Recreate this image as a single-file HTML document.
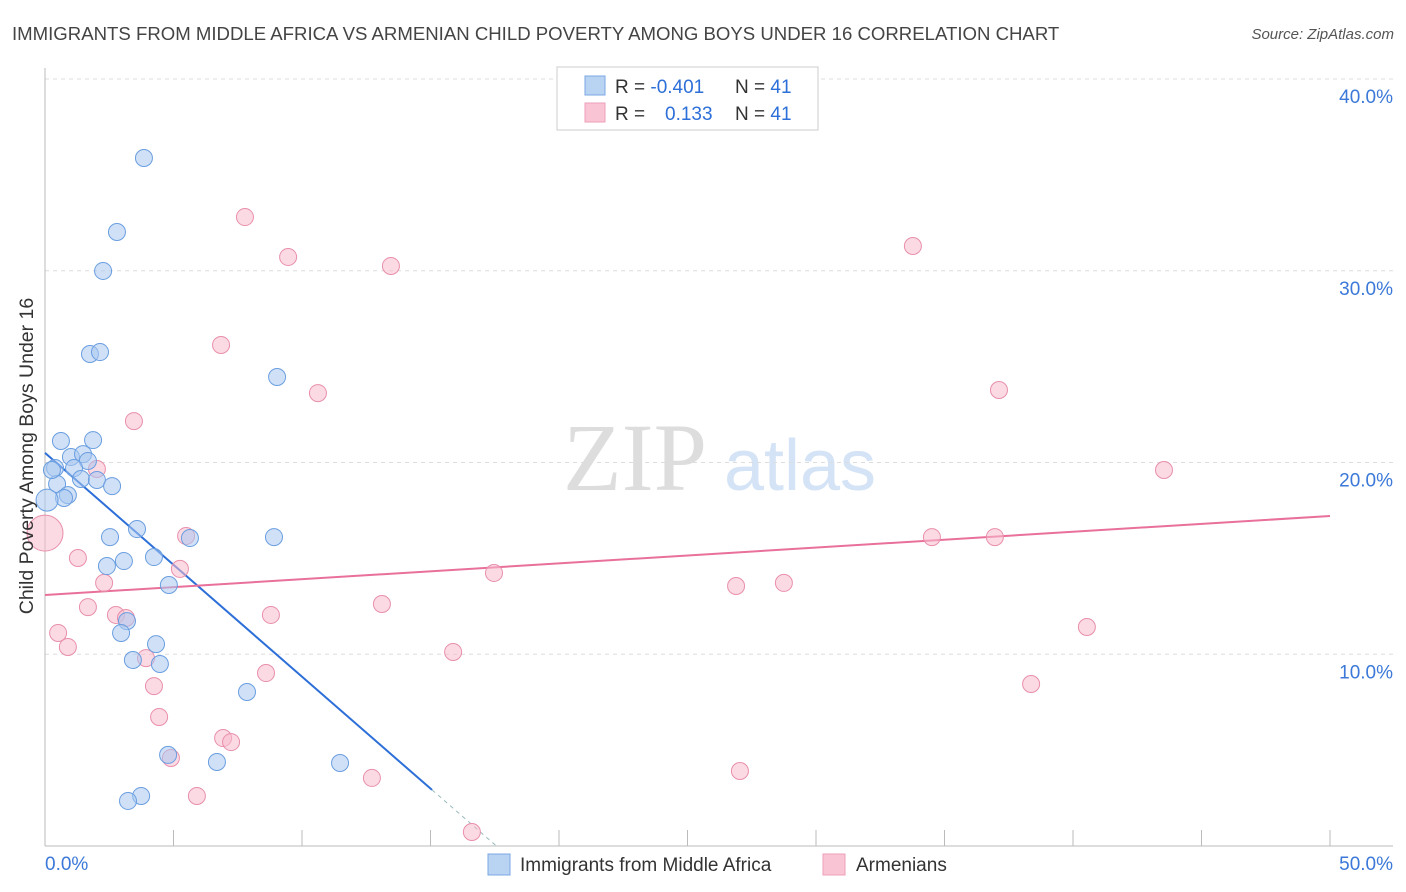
<!DOCTYPE html>
<html><head><meta charset="utf-8"><style>
body{margin:0;background:#fff;font-family:"Liberation Sans",sans-serif}
</style></head><body>
<svg id="chart" width="1406" height="892" xmlns="http://www.w3.org/2000/svg" style="display:block">
<text x="12" y="40" font-size="18.6" fill="#444">IMMIGRANTS FROM MIDDLE AFRICA VS ARMENIAN CHILD POVERTY AMONG BOYS UNDER 16 CORRELATION CHART</text>
<text x="1394" y="39" font-size="15" fill="#555" text-anchor="end" font-style="italic">Source: ZipAtlas.com</text>
<g>
<text x="635" y="490" font-family="Liberation Serif,serif" font-size="96" fill="#ddd" text-anchor="middle">ZIP</text>
<text x="800" y="490" font-size="72" fill="#d4e3f5" text-anchor="middle">atlas</text>
</g>
<g id="grid"></g>
<g id="axes"></g>
<g id="lines"></g>
<g id="points"></g>
<text transform="translate(33,456) rotate(-90)" font-size="19.5" fill="#333" text-anchor="middle">Child Poverty Among Boys Under 16</text>
<g>
<rect x="557" y="67" width="261" height="63" fill="#fff" stroke="#ccc"/>
<rect x="585" y="76" width="20" height="19" fill="#b9d3f3" stroke="#7aa7e3"/>
<rect x="585" y="103" width="20" height="19" fill="#f9c5d4" stroke="#ef9fb8"/>
<text x="615" y="93" font-size="19" fill="#333">R = <tspan fill="#2d6fd8">-0.401</tspan></text>
<text x="735" y="93" font-size="19" fill="#333">N = <tspan fill="#2d6fd8">41</tspan></text>
<text x="615" y="120" font-size="19" fill="#333">R = <tspan fill="#2d6fd8" x="665">0.133</tspan></text>
<text x="735" y="120" font-size="19" fill="#333">N = <tspan fill="#2d6fd8">41</tspan></text>
</g>
<g>
<rect x="488" y="854" width="22" height="21" fill="#b9d3f3" stroke="#7aa7e3"/>
<text x="520" y="871" font-size="19" fill="#333">Immigrants from Middle Africa</text>
<rect x="823" y="854" width="22" height="21" fill="#f9c5d4" stroke="#ef9fb8"/>
<text x="856" y="871" font-size="19" fill="#333">Armenians</text>
</g>
</svg>
<script>
const yTicks=[10,20,30,40];
const yTickLabels=["10.0%","20.0%","30.0%","40.0%"];
const xTicks=[0,5,10,15,20,25,30,35,40,45,50];
const blueX=[3.85,2.80,2.26,1.75,2.14,9.03,0.62,1.87,1.01,1.48,1.67,0.39,1.13,1.40,2.02,2.61,0.47,0.89,0.74,0.08,3.58,2.53,5.64,8.91,4.24,3.07,2.41,4.82,3.19,2.96,4.32,3.42,4.47,7.86,4.79,6.69,11.48,3.74,3.23,0.27];
const blueY=[35.88,32.02,29.99,25.66,25.76,24.46,21.12,21.17,20.29,20.44,20.08,19.71,19.71,19.14,19.09,18.77,18.88,18.30,18.15,18.04,16.53,16.11,16.06,16.11,15.07,14.86,14.60,13.61,11.73,11.11,10.53,9.70,9.49,8.03,4.75,4.38,4.33,2.61,2.35,19.61];
const pinkX=[7.78,9.46,13.46,33.77,6.85,10.62,37.12,3.46,2.02,43.54,0.0,5.49,1.28,34.51,36.96,5.25,17.47,2.30,26.89,28.75,1.67,2.76,3.15,13.11,8.79,0.51,40.54,0.89,15.88,3.93,8.60,4.24,38.37,4.44,6.93,7.24,4.90,12.72,27.04,5.91,16.61];
const pinkY=[32.80,30.72,30.25,31.29,26.13,23.62,23.78,22.16,19.66,19.61,16.32,16.17,15.02,16.11,16.11,14.45,14.24,13.72,13.56,13.72,12.46,12.05,11.89,12.62,12.05,11.11,11.42,10.38,10.12,9.80,9.02,8.34,8.45,6.73,5.63,5.42,4.59,3.55,3.91,2.61,0.73];
const blueTrend=[20.5,-1.167];
const pinkTrend=[13.09,0.0824];
const X=v=>45+v/50*1285, Y=v=>846-v/40*767;
const NS="http://www.w3.org/2000/svg";
function mk(tag,attrs,parent){const e=document.createElementNS(NS,tag);for(const k in attrs)e.setAttribute(k,attrs[k]);document.getElementById(parent).appendChild(e);return e;}
yTicks.forEach((t,i)=>{
 const g=mk('line',{x1:45,x2:1393,y1:Y(t),y2:Y(t),stroke:'#ddd','stroke-dasharray':'4,4'},'grid');
 
 
 const l=mk('text',{x:1393,y:Y(t)+24,'font-size':19,fill:'#3b78d8','text-anchor':'end'},'axes');
 l.textContent=yTickLabels[i];
 
 
});
mk('line',{x1:45,x2:45,y1:68,y2:846,stroke:'#bbb'},'axes');
mk('line',{x1:45,x2:1393,y1:846,y2:846,stroke:'#bbb'},'axes');
xTicks.forEach(t=>{const e=mk('line',{x1:X(t),x2:X(t),y1:846,y2:830,stroke:'#bbb'},'axes');
 
 });
const x0=mk('text',{x:45,y:870,'font-size':19,fill:'#3b78d8'},'axes');x0.textContent="0.0%";


const x1=mk('text',{x:1393,y:870,'font-size':19,fill:'#3b78d8','text-anchor':'end'},'axes');x1.textContent="50.0%";


function pts(xs,ys,fill,stroke,name,bigR){xs.forEach((x,i)=>{const big=(x<0.1);
 const c=mk('circle',{cx:X(x),cy:Y(ys[i]),r:big?bigR:8.5,fill:fill,'fill-opacity':0.55,stroke:stroke,'stroke-width':1},'points');
 
 });}
pts(pinkX,pinkY,'#f7bccd','#e98fab','armenians-point',18);
pts(blueX,blueY,'#a9c8f0','#6a9ee0','immigrants-point',11);
const bEnd=15.06, bZero=-blueTrend[0]/blueTrend[1];
const bl=mk('line',{x1:X(0),y1:Y(blueTrend[0]),x2:X(bEnd),y2:Y(blueTrend[0]+blueTrend[1]*bEnd),stroke:'#2d6fd8','stroke-width':2},'lines');


const bd=mk('line',{x1:X(bEnd),y1:Y(blueTrend[0]+blueTrend[1]*bEnd),x2:X(bZero),y2:Y(0),stroke:'#9bb',"stroke-dasharray":'4,4','stroke-width':1},'lines');


const pl=mk('line',{x1:X(0),y1:Y(pinkTrend[0]),x2:X(50),y2:Y(pinkTrend[0]+pinkTrend[1]*50),stroke:'#e8709a','stroke-width':2},'lines');


</script>
</body></html>
